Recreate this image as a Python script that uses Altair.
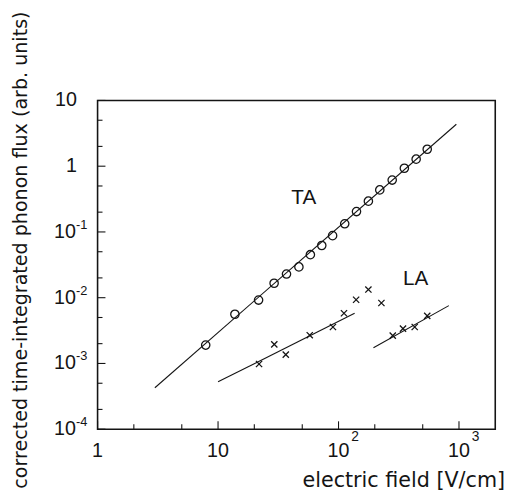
import altair as alt
import pandas as pd

# ---- data ----
ta_field = [7.9, 13.8, 21.7, 29.2, 37.0, 46.9, 58.4, 72.6, 89.3, 112.6, 141, 177, 220, 279, 352, 441, 545]
ta_flux = [1.9e-3, 5.6e-3, 9.2e-3, 0.0166, 0.0229, 0.0294, 0.0451, 0.0622, 0.0879, 0.133,
           0.204, 0.294, 0.436, 0.615, 0.93, 1.28, 1.81]

la_field = [21.9, 29.3, 36.5, 57.7, 89.9, 111, 140, 177, 227, 282, 343, 429, 545]
la_flux = [9.8e-4, 1.95e-3, 1.36e-3, 2.69e-3, 3.58e-3, 5.8e-3, 9.3e-3, 0.0133, 8.3e-3,
           2.65e-3, 3.38e-3, 3.58e-3, 5.3e-3]

fit_id = ["TA", "TA", "LA1", "LA1", "LA2", "LA2"]
fit_field = [2.99, 951, 10, 136, 195, 824]
fit_flux = [4.27e-4, 4.34, 5.25e-4, 5.8e-3, 1.73e-3, 7.57e-3]

ann_text = ["TA", "LA"]
ann_field = [51.5, 436]
ann_flux = [0.322, 0.019]

x_major = [1, 10, 100, 1000]
x_minor = [2, 5, 20, 50, 200, 500]
y_major = [1e-4, 1e-3, 1e-2, 1e-1, 1, 10]
y_minor = [2e-4, 5e-4, 2e-3, 5e-3, 2e-2, 5e-2, 0.2, 0.5, 2, 5]

x_lab_base = ["1", "10", "10", "10"]
x_exp_val = [100, 1000]
x_exp_txt = ["2", "3"]
y_exp_val = [1e-4, 1e-3, 1e-2, 1e-1]
y_exp_txt = ["-4", "-3", "-2", "-1"]
y_plain_val = [1, 10]
y_plain_txt = ["1", "10"]

x_title = "electric field [V/cm]"
y_title = "corrected time-integrated phonon flux (arb. units)"

INK = "#141414"
XS = alt.Scale(type="log", domain=[1, 2000])
YS = alt.Scale(type="log", domain=[1e-4, 10])


def X():
    return alt.X("x:Q", scale=XS, axis=None)


def Y():
    return alt.Y("y:Q", scale=YS, axis=None)


W, H = 404, 334

ta = alt.Chart(pd.DataFrame({"x": ta_field, "y": ta_flux})).mark_point(
    shape="circle", size=72, filled=False, stroke=INK, strokeWidth=1.3, opacity=1
).encode(x=X(), y=Y())

la = alt.Chart(pd.DataFrame({"x": la_field, "y": la_flux})).mark_point(
    shape="M-1,-1L1,1M-1,1L1,-1", size=40, filled=False, stroke=INK, strokeWidth=1.3, opacity=1
).encode(x=X(), y=Y())

fits = alt.Chart(pd.DataFrame({"x": fit_field, "y": fit_flux, "id": fit_id})).mark_line(
    color=INK, strokeWidth=1.1
).encode(x=X(), y=Y(), detail="id:N")

ann = alt.Chart(pd.DataFrame({"x": ann_field, "y": ann_flux, "t": ann_text})).mark_text(
    font="Liberation Sans", fontSize=21, color=INK
).encode(x=X(), y=Y(), text="t:N")

# inward ticks
xmaj = alt.Chart(pd.DataFrame({"x": x_major})).mark_rule(color=INK, strokeWidth=1.1).encode(
    x=X(), y=alt.value(H), y2=alt.value(H - 8))
xmin = alt.Chart(pd.DataFrame({"x": x_minor})).mark_rule(color=INK, strokeWidth=1.1).encode(
    x=X(), y=alt.value(H), y2=alt.value(H - 5))
ymaj = alt.Chart(pd.DataFrame({"y": y_major})).mark_rule(color=INK, strokeWidth=1.1).encode(
    y=Y(), x=alt.value(0), x2=alt.value(8))
ymin = alt.Chart(pd.DataFrame({"y": y_minor})).mark_rule(color=INK, strokeWidth=1.1).encode(
    y=Y(), x=alt.value(0), x2=alt.value(5))

# tick labels
xlab = alt.Chart(pd.DataFrame({"x": x_major, "t": x_lab_base})).mark_text(
    font="Liberation Sans", fontSize=20, align="center", baseline="middle", color=INK
).encode(x=X(), y=alt.value(H + 22), text="t:N")
xexp = alt.Chart(pd.DataFrame({"x": x_exp_val, "t": x_exp_txt})).mark_text(
    font="Liberation Sans", fontSize=14, align="left", baseline="middle", dx=13, color=INK
).encode(x=X(), y=alt.value(H + 8), text="t:N")
ybase = alt.Chart(pd.DataFrame({"y": y_exp_val, "t": ["10"] * len(y_exp_val)})).mark_text(
    font="Liberation Sans", fontSize=20, align="right", baseline="middle", color=INK
).encode(y=Y(), x=alt.value(-22), text="t:N")
yexp = alt.Chart(pd.DataFrame({"y": y_exp_val, "t": y_exp_txt})).mark_text(
    font="Liberation Sans", fontSize=13, align="left", baseline="middle", dy=-7, color=INK
).encode(y=Y(), x=alt.value(-22), text="t:N")
yplain = alt.Chart(pd.DataFrame({"y": y_plain_val, "t": y_plain_txt})).mark_text(
    font="Liberation Sans", fontSize=20, align="right", baseline="middle", color=INK
).encode(y=Y(), x=alt.value(-21), text="t:N")

# titles
xt = alt.Chart(pd.DataFrame({"t": [x_title]})).mark_text(
    font="DejaVu Sans", fontSize=21, align="right", baseline="alphabetic", color=INK
).encode(x=alt.value(W + 10), y=alt.value(H + 59), text="t:N")
yt = alt.Chart(pd.DataFrame({"t": [y_title]})).mark_text(
    font="DejaVu Sans", fontSize=19.4, align="center", baseline="alphabetic", angle=270, color=INK
).encode(x=alt.value(-72), y=alt.value(152), text="t:N")

chart = alt.layer(
    fits, ta, la, ann, xmaj, xmin, ymaj, ymin, xlab, xexp, ybase, yexp, yplain, xt, yt
).properties(
    width=W, height=H,
    autosize=alt.AutoSizeParams(type="none"),
    padding={"left": 91, "top": 90, "right": 16, "bottom": 67},
).configure_view(stroke=INK, strokeWidth=1.6)

chart.save("out.html", embed_options={"renderer": "svg", "actions": False})
